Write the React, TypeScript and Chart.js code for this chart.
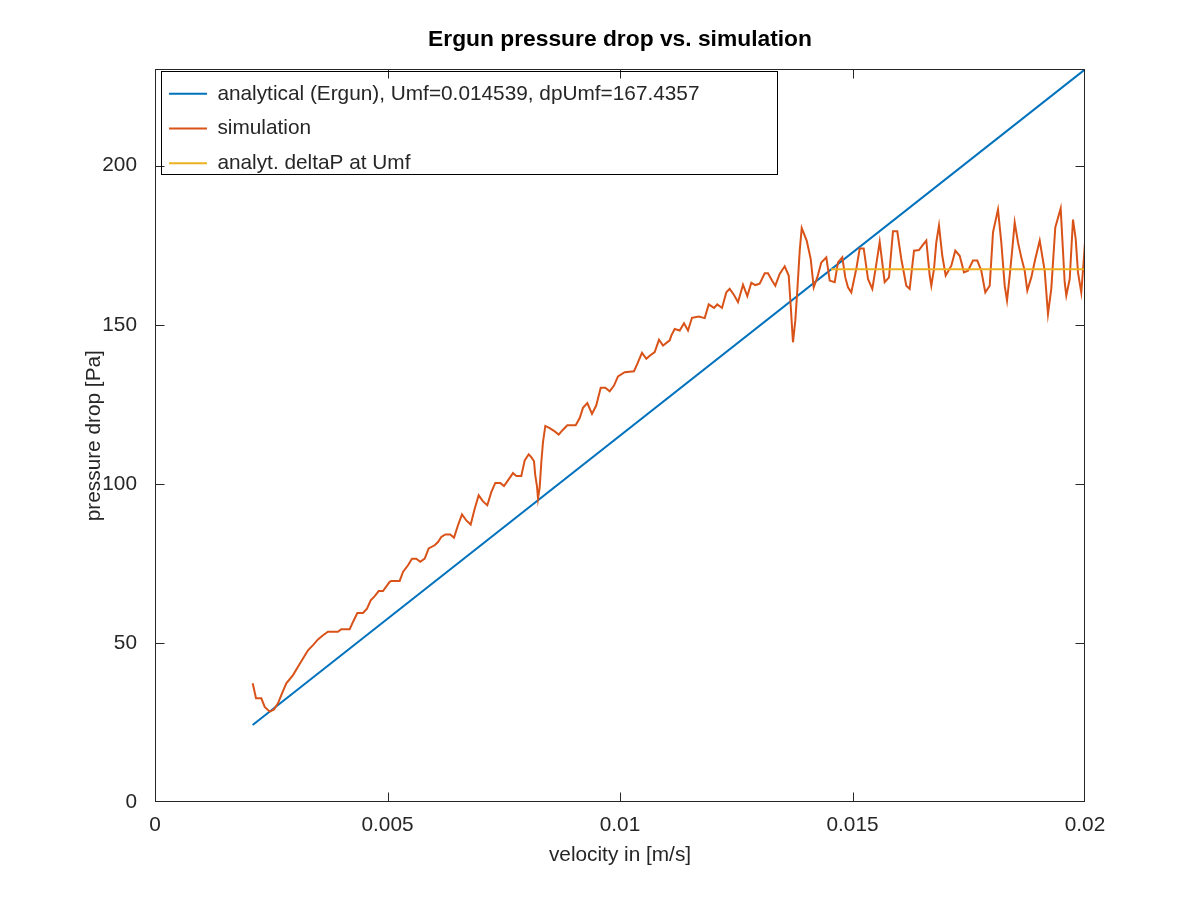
import React, { useEffect, useRef } from "react";
import { Chart, registerables } from "chart.js";

Chart.register(...registerables);

// ---- data ----
const velocity = [
  0.002101, 0.002172, 0.002286, 0.002359, 0.002467, 0.002559, 0.002645, 0.002716, 0.002824, 0.002968,
  0.003075, 0.003183, 0.00329, 0.003398, 0.003505, 0.003613, 0.00372, 0.003935, 0.004006, 0.004187,
  0.004258, 0.004351, 0.004473, 0.004559, 0.004639, 0.004725, 0.004811, 0.004903, 0.005047, 0.005082,
  0.005262, 0.005333, 0.005441, 0.005527, 0.005619, 0.005705, 0.0058, 0.005886, 0.006015, 0.006086,
  0.006157, 0.006243, 0.006351, 0.00643, 0.006516, 0.006602, 0.006695, 0.006789, 0.006875, 0.006961,
  0.007054, 0.007146, 0.007232, 0.007318, 0.007426, 0.007505, 0.007591, 0.007699, 0.00777, 0.007877,
  0.007951, 0.008037, 0.008092, 0.008151, 0.008178, 0.008215, 0.008237, 0.008273, 0.008308, 0.008344,
  0.008394, 0.008488, 0.008596, 0.008682, 0.008759, 0.008867, 0.009047, 0.009133, 0.009204, 0.009297,
  0.009398, 0.00949, 0.009585, 0.009684, 0.009778, 0.009871, 0.009957, 0.010101, 0.010301, 0.010372,
  0.010473, 0.010566, 0.010639, 0.010746, 0.010839, 0.010925, 0.011069, 0.011103, 0.011176, 0.011284,
  0.011376, 0.011462, 0.011548, 0.011692, 0.011822, 0.011908, 0.012022, 0.012092, 0.012194, 0.012286,
  0.012359, 0.012452, 0.012538, 0.012645, 0.012738, 0.012824, 0.01291, 0.013004, 0.013112, 0.013183,
  0.013269, 0.01334, 0.013434, 0.013542, 0.013628, 0.013671, 0.01372, 0.01377, 0.013813, 0.013865,
  0.013908, 0.014015, 0.014101, 0.014166, 0.014243, 0.014329, 0.014437, 0.01451, 0.014617, 0.014688,
  0.014781, 0.014845, 0.014903, 0.014974, 0.015082, 0.015155, 0.015241, 0.015333, 0.015426, 0.015512,
  0.015585, 0.015692, 0.015785, 0.015871, 0.015963, 0.016049, 0.016157, 0.01623, 0.016323, 0.01643,
  0.016501, 0.016587, 0.01666, 0.016695, 0.016753, 0.016802, 0.01686, 0.016931, 0.017004, 0.017125,
  0.017211, 0.017305, 0.017398, 0.017484, 0.017591, 0.017684, 0.01777, 0.017856, 0.017951, 0.018022,
  0.018129, 0.0182, 0.018273, 0.018323, 0.018381, 0.018437, 0.018488, 0.018559, 0.01863, 0.018703,
  0.018759, 0.018845, 0.018931, 0.019026, 0.019133, 0.019204, 0.019275, 0.019361, 0.019477, 0.019563,
  0.019598, 0.019671, 0.019742, 0.0198, 0.019849, 0.01992, 0.019978, 0.02,
];

const pressure = [
  37.3, 32.6, 32.6, 29.9, 28.4, 29.1, 31.0, 33.6, 37.3, 39.9,
  42.5, 45.1, 47.7, 49.3, 51.1, 52.4, 53.5, 53.5, 54.3, 54.3,
  56.6, 59.4, 59.4, 60.8, 63.4, 64.7, 66.3, 66.3, 69.2, 69.5,
  69.5, 72.3, 74.4, 76.5, 76.5, 75.5, 76.5, 79.7, 80.7, 81.7,
  83.3, 84.1, 84.1, 83.1, 87.0, 90.4, 88.5, 87.2, 92.2, 96.4,
  94.5, 93.3, 97.4, 100.3, 100.3, 99.3, 101.1, 103.4, 102.5, 102.5,
  107.4, 109.3, 108.4, 107.1, 102.7, 99.2, 95.4, 99.0, 106.8, 113.1,
  118.2, 117.5, 116.5, 115.5, 116.8, 118.4, 118.4, 120.7, 123.9, 125.4,
  122.0, 124.7, 130.2, 130.2, 129.1, 130.9, 133.8, 135.1, 135.4, 137.7,
  141.2, 139.3, 140.3, 141.4, 145.3, 143.5, 145.1, 146.6, 148.7, 148.2,
  150.5, 148.2, 152.2, 152.6, 152.1, 156.4, 155.3, 156.4, 155.3, 160.2,
  161.3, 159.4, 157.1, 162.6, 159.0, 163.2, 162.5, 162.9, 166.2, 166.2,
  163.9, 162.3, 166.0, 168.4, 165.5, 156.0, 144.5, 151.3, 160.8, 173.3,
  180.4, 176.5, 170.7, 161.8, 164.9, 169.6, 171.2, 163.9, 163.4, 169.6,
  171.2, 164.9, 161.8, 160.2, 167.6, 174.0, 174.0, 164.4, 161.3, 169.1,
  176.1, 163.4, 164.9, 179.4, 179.4, 170.7, 162.3, 161.3, 173.3, 173.5,
  174.9, 176.5, 165.5, 162.3, 167.6, 175.9, 181.2, 171.7, 165.5, 168.6,
  173.3, 171.7, 166.5, 167.0, 170.2, 170.2, 167.0, 160.2, 162.3, 179.1,
  186.2, 175.9, 162.3, 157.6, 165.5, 173.9, 182.2, 175.9, 171.2, 167.0,
  160.8, 164.9, 170.7, 176.5, 167.0, 153.4, 161.3, 180.6, 186.6, 163.4,
  159.2, 164.4, 183.1, 177.0, 166.5, 160.2, 171.2, 176.0,
];

const ergunVelocity = [0.0021, 0.02];
const ergunPressure = [24.2, 230.3];
const umfVelocity = [0.014539, 0.02];
const umfPressure = [167.4357, 167.4357];

const xTicks = [0, 0.005, 0.01, 0.015, 0.02];
const yTicks = [0, 50, 100, 150, 200];

const seriesLabels = [
  "analytical (Ergun), Umf=0.014539, dpUmf=167.4357",
  "simulation",
  "analyt. deltaP at Umf",
];
const seriesColors = ["#0072BD", "#D95319", "#EDB120"];

const chartTitle = "Ergun pressure drop vs. simulation";
const xTitle = "velocity in [m/s]";
const yTitle = "pressure drop [Pa]";

const FONT = "'Liberation Sans', Arial, Helvetica, sans-serif";
const INK = "#262626";
const FS = 20.8;

const toPoints = (xs: number[], ys: number[]) => xs.map((x, i) => ({ x, y: ys[i] }));

const framePlugin = {
  id: "frameAndTicks",
  afterLayout(chart: any) {
    // legend placed in the chart area: anchor it to the top of the plot box
    const lg = chart.legend;
    if (lg) {
      const h = lg.height;
      lg.top = chart.chartArea.top;
      lg.bottom = lg.top + h;
    }
  },
  afterDraw(chart: any) {
    const { ctx, chartArea: a, scales } = chart;
    ctx.save();
    ctx.strokeStyle = INK;
    ctx.lineWidth = 1;
    const L = Math.round(a.left) + 0.5;
    const R = Math.round(a.right) - 0.5;
    const T = Math.round(a.top) + 0.5;
    const B = Math.round(a.bottom) - 0.5;
    ctx.strokeRect(L, T, R - L, B - T);
    const tl = 9;
    const clamp = (v: number, lo: number, hi: number) => Math.min(hi, Math.max(lo, v));
    ctx.beginPath();
    for (const t of scales.x.ticks) {
      const px = clamp(Math.round(scales.x.getPixelForValue(t.value)) + 0.5, L, R);
      ctx.moveTo(px, B);
      ctx.lineTo(px, B - tl);
      ctx.moveTo(px, T);
      ctx.lineTo(px, T + tl);
    }
    for (const t of scales.y.ticks) {
      const py = clamp(Math.round(scales.y.getPixelForValue(t.value)) + 0.5, T, B);
      ctx.moveTo(L, py);
      ctx.lineTo(L + tl, py);
      ctx.moveTo(R, py);
      ctx.lineTo(R - tl, py);
    }
    ctx.stroke();

    // legend frame
    const lg = chart.legend;
    if (lg) {
      const lx = Math.round(a.left + 6) + 0.5;
      const ly = Math.round(a.top + 2) + 0.5;
      ctx.strokeStyle = "#000000";
      ctx.strokeRect(lx, ly, 616, 103);
    }
    ctx.restore();
  },
};

export default function App() {
  const ref = useRef<HTMLCanvasElement | null>(null);

  useEffect(() => {
    if (!ref.current) return;
    const chart = new Chart(ref.current, {
      type: "line",
      data: {
        datasets: [
          {
            label: seriesLabels[0],
            data: toPoints(ergunVelocity, ergunPressure),
            borderColor: seriesColors[0],
            backgroundColor: seriesColors[0],
            borderWidth: 2,
            pointRadius: 0,
            tension: 0,
            order: 3,
          },
          {
            label: seriesLabels[1],
            data: toPoints(velocity, pressure),
            borderColor: seriesColors[1],
            backgroundColor: seriesColors[1],
            borderWidth: 2,
            pointRadius: 0,
            tension: 0,
            order: 2,
          },
          {
            label: seriesLabels[2],
            data: toPoints(umfVelocity, umfPressure),
            borderColor: seriesColors[2],
            backgroundColor: seriesColors[2],
            borderWidth: 2,
            pointRadius: 0,
            tension: 0,
            order: 1,
          },
        ],
      },
      options: {
        animation: false,
        responsive: false,
        maintainAspectRatio: false,
        events: [],
        layout: { padding: 0 },
        scales: {
          x: {
            type: "linear",
            min: 0,
            max: 0.02,
            afterBuildTicks: (s: any) => {
              s.ticks = xTicks.map((v) => ({ value: v }));
            },
            afterFit: (s: any) => {
              s.height = 98;
            },
            grid: { display: false, drawTicks: false },
            border: { display: false },
            ticks: {
              padding: 11,
              maxRotation: 0,
              color: INK,
              font: { family: FONT, size: FS },
              callback: (v: any) => String(Number(v)),
            },
            title: {
              display: true,
              text: xTitle,
              color: INK,
              font: { family: FONT, size: FS },
              padding: { top: 0, bottom: 32 },
            },
          },
          y: {
            type: "linear",
            position: "left",
            min: 0,
            max: 230.3,
            afterBuildTicks: (s: any) => {
              s.ticks = yTicks.map((v) => ({ value: v }));
            },
            afterFit: (s: any) => {
              s.width = 155;
            },
            grid: { display: false, drawTicks: false },
            border: { display: false },
            ticks: {
              padding: 18,
              color: INK,
              font: { family: FONT, size: FS },
              callback: (v: any) => String(Number(v)),
            },
            title: {
              display: true,
              text: yTitle,
              color: INK,
              font: { family: FONT, size: FS },
              padding: { top: 82, bottom: 0 },
            },
          },
          yr: {
            type: "linear",
            position: "right",
            display: true,
            afterFit: (s: any) => {
              s.width = 155;
            },
            grid: { display: false, drawTicks: false },
            border: { display: false },
            ticks: { display: false },
          },
        },
        plugins: {
          title: {
            display: true,
            text: chartTitle,
            color: "#000000",
            font: { family: FONT, size: 22.8, weight: "bold" },
            padding: { top: 26, bottom: 16 },
          },
          legend: {
            display: true,
            position: "chartArea",
            align: "start",
            labels: {
              usePointStyle: true,
              pointStyle: "line",
              pointStyleWidth: 38,
              padding: 14,
              color: INK,
              font: { family: FONT, size: FS },
              sort: (a: any, b: any) => a.datasetIndex - b.datasetIndex,
            },
          },
          tooltip: { enabled: false },
        },
      } as any,
      plugins: [framePlugin],
    });
    return () => chart.destroy();
  }, []);

  return (
    <div
      style={{
        position: "fixed",
        left: 0,
        top: 0,
        width: 1200,
        height: 900,
        overflow: "hidden",
        background: "#ffffff",
      }}
    >
      <canvas ref={ref} width={1240} height={900} style={{ width: 1240, height: 900, display: "block" }} />
    </div>
  );
}
